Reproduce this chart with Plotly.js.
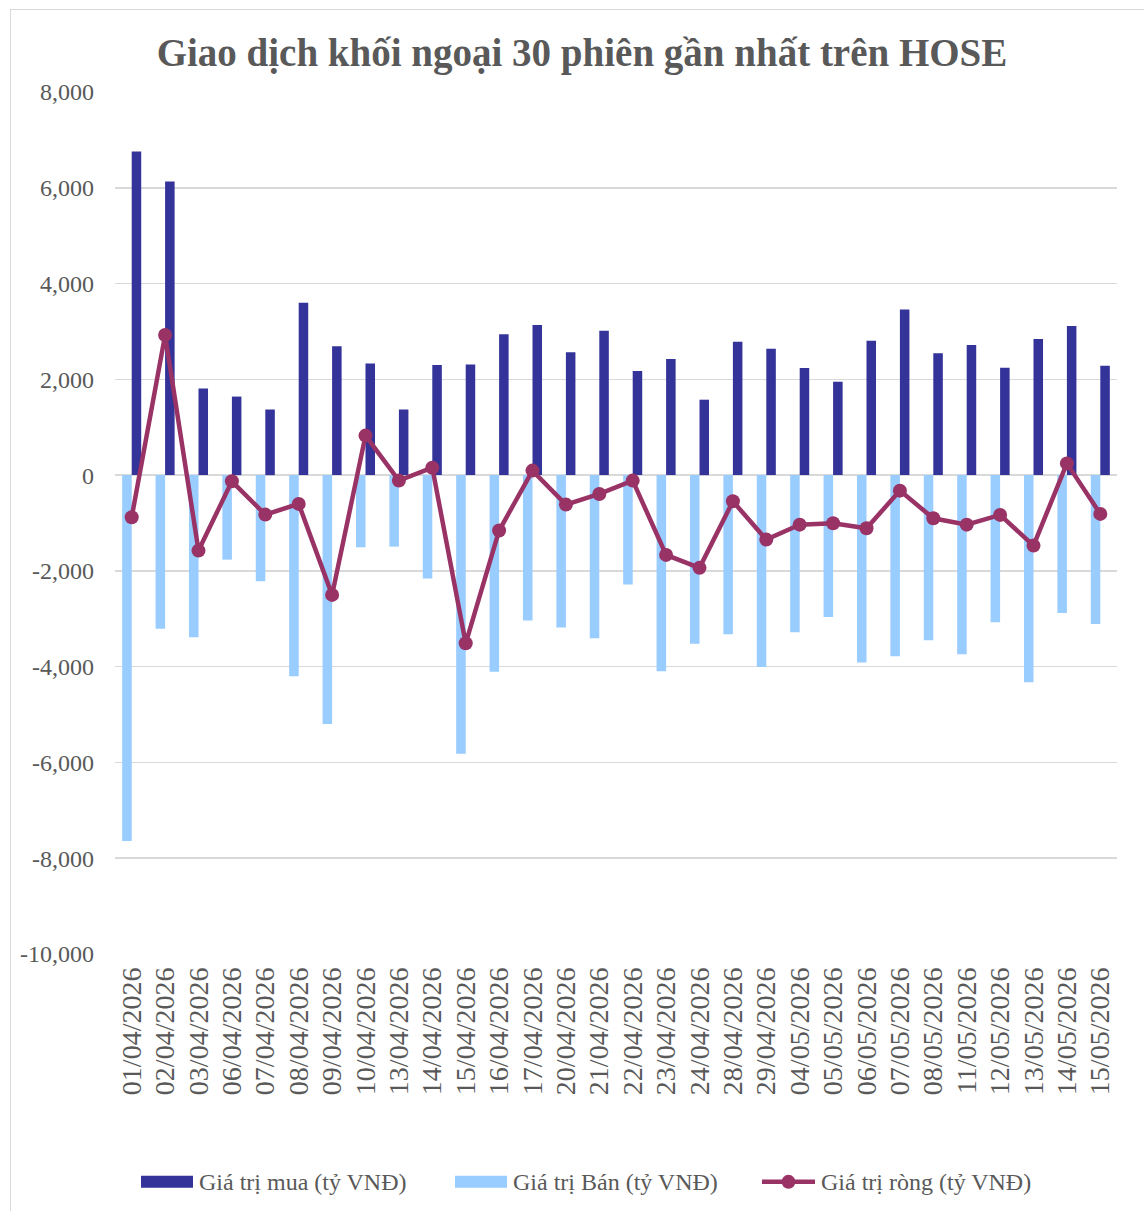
<!DOCTYPE html>
<html>
<head>
<meta charset="utf-8">
<script src="https://cdn.plot.ly/plotly-3.0.1.min.js"></script>
<style>
  html, body { margin: 0; padding: 0; background: #ffffff; }
  #frame { position: absolute; left: 10px; top: 9px; width: 1200px; height: 1300px;
           border-left: 1.5px solid #d9d9d9; border-top: 1.5px solid #d9d9d9; }
  #chart { position: absolute; left: 0; top: 0; width: 1144px; height: 1211px; }
</style>
</head>
<body>
<div id="frame"></div>
<div id="chart"></div>
<script>
const dates = ['01/04/2026','02/04/2026','03/04/2026','06/04/2026','07/04/2026','08/04/2026','09/04/2026','10/04/2026','13/04/2026','14/04/2026','15/04/2026','16/04/2026','17/04/2026','20/04/2026','21/04/2026','22/04/2026','23/04/2026','24/04/2026','28/04/2026','29/04/2026','04/05/2026','05/05/2026','06/05/2026','07/05/2026','08/05/2026','11/05/2026','12/05/2026','13/05/2026','14/05/2026','15/05/2026'];
const buyValues = [6760,6130,1810,1640,1370,3600,2690,2330,1370,2300,2310,2940,3135,2565,3017,2175,2425,1575,2787,2640,2237,1951,2808,3456,2543,2718,2243,2843,3115,2285];
const sellValues = [-7640,-3210,-3385,-1765,-2217,-4200,-5195,-1507,-1493,-2160,-5820,-4108,-3038,-3184,-3407,-2286,-4096,-3524,-3323,-4005,-3282,-2961,-3914,-3782,-3449,-3741,-3073,-4325,-2877,-3107];
const netValues = [-880,2925,-1576,-129,-825,-601,-2501,825,-115,155,-3512,-1158,94,-616,-393,-115,-1666,-1937,-547,-1347,-1034,-1006,-1110,-324,-902,-1034,-831,-1472,245,-810];
const yTickValues = [8000,6000,4000,2000,0,-2000,-4000,-6000,-8000,-10000];
const yTickLabels = ['8,000','6,000','4,000','2,000','0','-2,000','-4,000','-6,000','-8,000','-10,000'];
const seriesNames = ['Giá trị mua (tỷ VNĐ)','Giá trị Bán (tỷ VNĐ)','Giá trị ròng (tỷ VNĐ)'];
const chartTitle = 'Giao dịch khối ngoại 30 phiên gần nhất trên HOSE';

const C_BUY = '#333399', C_SELL = '#99ccff', C_NET = '#993366';
const FONT = 'Liberation Serif, Times New Roman, serif';
const TXT = '#595959';

const traces = [
  { type: 'bar', x: dates, y: buyValues, name: seriesNames[0], marker: { color: C_BUY },
    width: 0.285, offset: 0, showlegend: false, hoverinfo: 'x+y' },
  { type: 'bar', x: dates, y: sellValues, name: seriesNames[1], marker: { color: C_SELL },
    width: 0.285, offset: -0.285, showlegend: false, hoverinfo: 'x+y' },
  { type: 'scatter', mode: 'lines+markers', x: dates, y: netValues, name: seriesNames[2],
    line: { color: C_NET, width: 4.5 }, marker: { color: C_NET, size: 14 }, showlegend: false, hoverinfo: 'x+y' }
];

// legend geometry (paper coords)
const L = 115, W = 1002, B = 954, H = 862.5;
const px = v => (v - L) / W;
const py = v => (B - v) / H;
const ly = py(1182);

const shapes = [
  { type: 'rect', xref: 'paper', yref: 'paper', x0: px(141), x1: px(193), y0: py(1176), y1: py(1188),
    fillcolor: C_BUY, line: { width: 0 } },
  { type: 'rect', xref: 'paper', yref: 'paper', x0: px(455), x1: px(507), y0: py(1176), y1: py(1188),
    fillcolor: C_SELL, line: { width: 0 } },
  { type: 'line', xref: 'paper', yref: 'paper', x0: px(762), x1: px(815), y0: ly, y1: ly,
    line: { color: C_NET, width: 4.5 } },
  { type: 'circle', xref: 'paper', yref: 'paper', xsizemode: 'pixel', ysizemode: 'pixel',
    xanchor: px(788.5), yanchor: ly, x0: -7, x1: 7, y0: -7, y1: 7,
    fillcolor: C_NET, line: { width: 0 } }
];
const legendX = [197, 511, 819];
const annotations = seriesNames.map((n, i) => ({
  xref: 'paper', yref: 'paper', x: px(legendX[i]), y: ly, xanchor: 'left', yanchor: 'middle',
  text: n, showarrow: false, font: { family: FONT, size: 24, color: TXT }
}));

const layout = {
  width: 1144, height: 1211,
  margin: { l: 115, r: 27, t: 91.5, b: 257 },
  paper_bgcolor: 'rgba(0,0,0,0)', plot_bgcolor: 'rgba(0,0,0,0)',
  title: { text: '<b>' + chartTitle + '</b>', x: 582 / 1144, xref: 'container', xanchor: 'center',
           y: 1 - 52 / 1211, yref: 'container', yanchor: 'middle',
           font: { family: FONT, size: 39, color: TXT } },
  barmode: 'overlay',
  xaxis: { type: 'category', range: [-0.5, dates.length - 0.5], tickmode: 'linear', dtick: 1, tick0: 0,
           showgrid: false, showline: false, zeroline: false,
           tickangle: -90, ticks: '', ticklabelstandoff: 7,
           tickfont: { family: FONT, size: 28, color: TXT } },
  yaxis: { range: [-10000, 8000], tickmode: 'array', tickvals: yTickValues, ticktext: yTickLabels,
           showgrid: true, gridcolor: '#d9d9d9', gridwidth: 1.5, zeroline: true, zerolinecolor: '#d9d9d9',
           zerolinewidth: 1.5, showline: false, ticks: '', ticklabelstandoff: 20,
           tickfont: { family: FONT, size: 24, color: TXT } },
  shapes: shapes,
  annotations: annotations,
  showlegend: false
};

Plotly.newPlot('chart', traces, layout, { displayModeBar: false, staticPlot: true });
</script>
</body>
</html>
